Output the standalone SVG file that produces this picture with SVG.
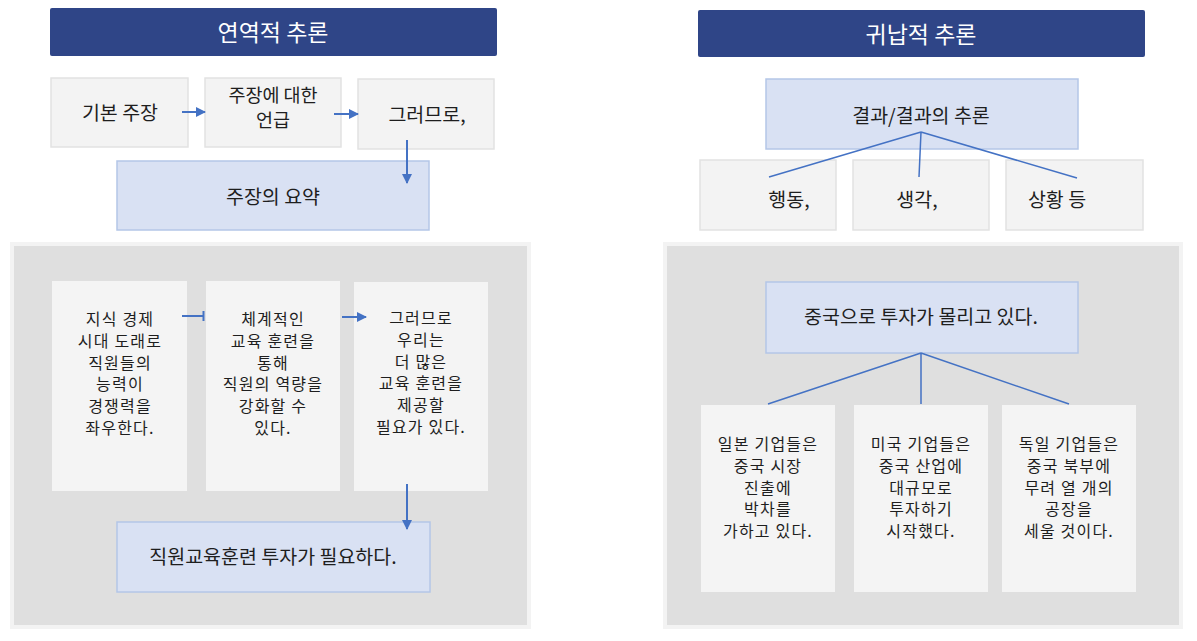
<svg xmlns="http://www.w3.org/2000/svg" width="1197" height="641" viewBox="0 0 1197 641">
<style>
text{font-family:"Noto Sans CJK KR","Noto Sans",sans-serif;fill:#1e1e1e;text-anchor:middle;dominant-baseline:central}
.title{fill:#2f4587}
.tt{fill:#fff;font-size:23px}
.gbox{fill:#f3f3f3;stroke:#e2e2e2;stroke-width:1.5}
.bbox{fill:#d9e1f3;stroke:#b4c6e7;stroke-width:1.5}
.panel{fill:#dfdfdf;stroke:#f3f3f3;stroke-width:4}
.tbox{fill:#f4f4f4}
.m{font-size:19.5px}
.m2{font-size:18.5px}
.s{font-size:16px;letter-spacing:1.2px}
.c{stroke:#4472c4;stroke-width:2;fill:none}
.l{stroke:#4472c4;stroke-width:1.5;fill:none}
</style>
<defs>
<marker id="ah" viewBox="0 0 10 10" refX="9" refY="5" markerWidth="5" markerHeight="5" markerUnits="strokeWidth" orient="auto">
<path d="M0,0 L10,5 L0,10 z" fill="#4472c4"/>
</marker>
</defs>
<rect width="1197" height="641" fill="#fff"/>

<g id="title-left"><rect class="title" x="50" y="8" width="447" height="48" rx="2"/><text class="tt" x="273" y="31">연역적 추론</text></g>
<g id="title-right"><rect class="title" x="698" y="10" width="447" height="47" rx="2"/><text class="tt" x="921" y="33">귀납적 추론</text></g>

<g id="n-basic"><rect class="gbox" x="51" y="78" width="137" height="69"/><text class="m" x="120" y="111">기본 주장</text></g>
<g id="n-mention"><rect class="gbox" x="205" y="78" width="136" height="69"/><text class="m2" x="273" y="94">주장에 대한</text><text class="m2" x="273" y="119">언급</text></g>
<g id="n-therefore"><rect class="gbox" x="358" y="79" width="136" height="70"/><text class="m" x="427" y="113">그러므로,</text></g>
<g id="n-summary"><rect class="bbox" x="117" y="161" width="312" height="69"/><text class="m" x="273" y="195">주장의 요약</text></g>

<g id="panel-left"><rect class="panel" x="12" y="244" width="517" height="383"/></g>
<g id="n-l1"><rect class="tbox" x="52" y="281" width="135" height="210"/>
<text class="s" x="120" y="318">지식 경제</text><text class="s" x="120" y="339.8">시대 도래로</text><text class="s" x="120" y="361.6">직원들의</text><text class="s" x="120" y="383.4">능력이</text><text class="s" x="120" y="405.2">경쟁력을</text><text class="s" x="120" y="427">좌우한다.</text></g>
<g id="n-l2"><rect class="tbox" x="206" y="281" width="134" height="210"/>
<text class="s" x="273" y="318">체계적인</text><text class="s" x="273" y="339.8">교육 훈련을</text><text class="s" x="273" y="361.6">통해</text><text class="s" x="273" y="383.4">직원의 역량을</text><text class="s" x="273" y="405.2">강화할 수</text><text class="s" x="273" y="427">있다.</text></g>
<g id="n-l3"><rect class="tbox" x="354" y="282" width="134" height="209"/>
<text class="s" x="421" y="317">그러므로</text><text class="s" x="421" y="338.8">우리는</text><text class="s" x="421" y="360.6">더 많은</text><text class="s" x="421" y="382.4">교육 훈련을</text><text class="s" x="421" y="404.2">제공할</text><text class="s" x="421" y="426">필요가 있다.</text></g>
<g id="n-l4"><rect class="bbox" x="117" y="522" width="313" height="70"/><text class="m" x="273" y="555">직원교육훈련 투자가 필요하다.</text></g>

<g id="n-result"><rect class="bbox" x="766" y="79" width="312" height="70"/><text class="m" x="921" y="114">결과/결과의 추론</text></g>
<g id="n-act"><rect class="gbox" x="700" y="160" width="136" height="70"/><text class="m" x="789" y="198">행동,</text></g>
<g id="n-think"><rect class="gbox" x="853" y="160" width="136" height="70"/><text class="m" x="917" y="198">생각,</text></g>
<g id="n-situ"><rect class="gbox" x="1006" y="160" width="137" height="70"/><text class="m" x="1057" y="198">상황 등</text></g>

<g id="panel-right"><rect class="panel" x="665" y="244" width="516" height="383"/></g>
<g id="n-china"><rect class="bbox" x="766" y="282" width="312" height="71"/><text class="m" x="921" y="315">중국으로 투자가 몰리고 있다.</text></g>
<g id="n-r1"><rect class="tbox" x="701" y="405" width="134" height="187"/>
<text class="s" x="768" y="443">일본 기업들은</text><text class="s" x="768" y="464.8">중국 시장</text><text class="s" x="768" y="486.5">진출에</text><text class="s" x="768" y="508.3">박차를</text><text class="s" x="768" y="530">가하고 있다.</text></g>
<g id="n-r2"><rect class="tbox" x="854" y="405" width="134" height="187"/>
<text class="s" x="921" y="443">미국 기업들은</text><text class="s" x="921" y="464.8">중국 산업에</text><text class="s" x="921" y="486.5">대규모로</text><text class="s" x="921" y="508.3">투자하기</text><text class="s" x="921" y="530">시작했다.</text></g>
<g id="n-r3"><rect class="tbox" x="1002" y="405" width="134" height="187"/>
<text class="s" x="1069" y="443">독일 기업들은</text><text class="s" x="1069" y="464.8">중국 북부에</text><text class="s" x="1069" y="486.5">무려 열 개의</text><text class="s" x="1069" y="508.3">공장을</text><text class="s" x="1069" y="530">세울 것이다.</text></g>

<g id="connectors">
<line class="c" x1="182" y1="112" x2="205" y2="112" marker-end="url(#ah)"/>
<line class="c" x1="334" y1="114" x2="358" y2="114" marker-end="url(#ah)"/>
<line class="c" x1="407" y1="140" x2="407" y2="183" marker-end="url(#ah)"/>
<line class="c" x1="182" y1="316" x2="203" y2="316"/>
<line class="c" x1="203.5" y1="311" x2="203.5" y2="321"/>
<line class="c" x1="342" y1="317" x2="366" y2="317" marker-end="url(#ah)"/>
<line class="c" x1="407" y1="484" x2="407" y2="529" marker-end="url(#ah)"/>
<path class="l" d="M921,132 L769,177 M921,132 L919,177 M921,132 L1077,178"/>
<path class="l" d="M921,353 L768,404 M921,353 L921,404 M921,353 L1069,404"/>
</g>
</svg>
